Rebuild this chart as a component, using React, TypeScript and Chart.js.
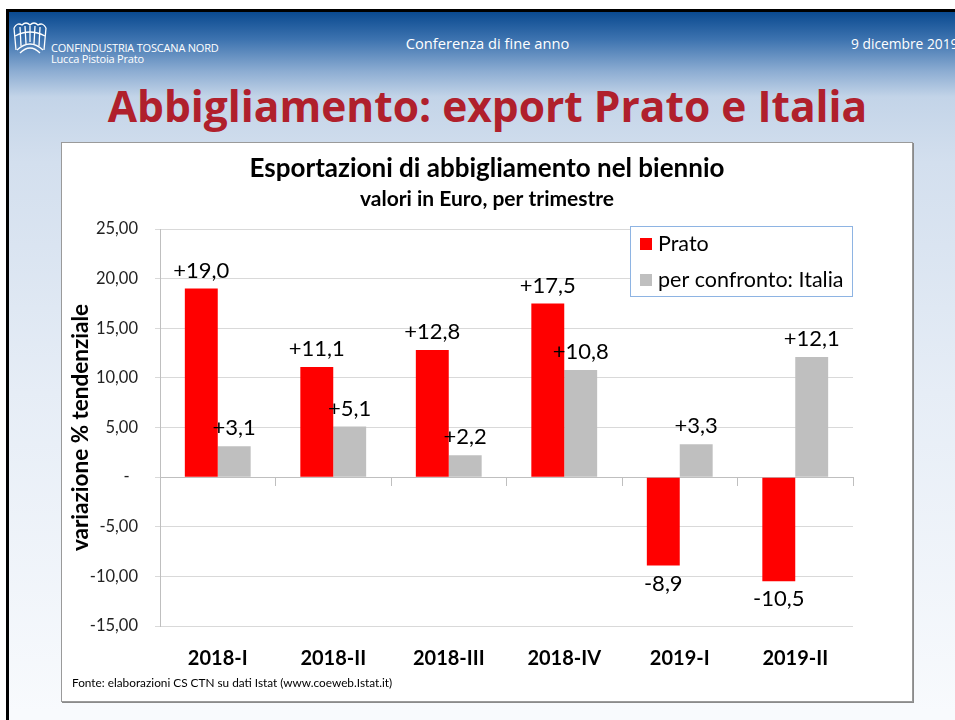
import React, { useEffect, useRef } from "react";
import { Chart, registerables } from "chart.js";

Chart.register(...registerables);

const categories = ["2018-I", "2018-II", "2018-III", "2018-IV", "2019-I", "2019-II"];
const pratoValues = [19.0, 11.1, 12.8, 17.5, -8.9, -10.5];
const italiaValues = [3.1, 5.1, 2.2, 10.8, 3.3, 12.1];
const seriesNames = ["Prato", "per confronto: Italia"];
const seriesColors = ["#ff0000", "#bfbfbf"];
const yMin = -15;
const yMax = 25;
const yStep = 5;

const chartTitle = "Esportazioni di abbigliamento nel biennio";
const chartSubtitle = "valori in Euro, per trimestre";
const yTitle = "variazione % tendenziale";
const sourceNote = "Fonte: elaborazioni CS CTN su dati Istat (www.coeweb.Istat.it)";

const FONT = "Lato, 'Open Sans', sans-serif";

const fmtTick = (v: number) => (v === 0 ? "-  " : v.toFixed(2).replace(".", ","));
const fmtLabel = (v: number) => (v > 0 ? "+" : "") + v.toFixed(1).replace(".", ",");

const dataLabelPlugin = {
  id: "dataLabels",
  afterDatasetsDraw(chart: any) {
    const ctx = chart.ctx;
    ctx.save();
    ctx.font = `22px ${FONT}`;
    ctx.fillStyle = "#000";
    ctx.textAlign = "center";
    ctx.textBaseline = "middle";
    chart.data.datasets.forEach((ds: any, i: number) => {
      const meta = chart.getDatasetMeta(i);
      meta.data.forEach((el: any, j: number) => {
        const v = ds.data[j];
        const y = v >= 0 ? el.y - 18 : el.y + 18;
        ctx.fillText(fmtLabel(v), el.x, y);
      });
    });
    ctx.restore();
  },
};

const boxLegendPlugin = {
  id: "boxLegend",
  afterDraw(chart: any) {
    const ctx = chart.ctx;
    const area = chart.chartArea;
    const w = 222;
    const h = 70;
    const x = area.right - w - 1;
    const y = area.top - 3;
    ctx.save();
    ctx.fillStyle = "#ffffff";
    ctx.fillRect(x, y, w, h);
    ctx.strokeStyle = "#8eb4e3";
    ctx.lineWidth = 1;
    ctx.strokeRect(x + 0.5, y + 0.5, w, h);
    ctx.font = `21.5px ${FONT}`;
    ctx.textBaseline = "middle";
    ctx.textAlign = "left";
    chart.data.datasets.forEach((ds: any, i: number) => {
      const cy = y + 18 + i * 36;
      ctx.fillStyle = ds.backgroundColor;
      ctx.fillRect(x + 10, cy - 6, 12, 12);
      ctx.fillStyle = "#000";
      ctx.fillText(ds.label, x + 28, cy);
    });
    ctx.restore();
  },
};

function ChartBox() {
  const ref = useRef<HTMLCanvasElement | null>(null);
  useEffect(() => {
    if (!ref.current) return;
    const chart = new Chart(ref.current, {
      type: "bar",
      data: {
        labels: categories,
        datasets: [
          { label: seriesNames[0], data: pratoValues, backgroundColor: seriesColors[0], categoryPercentage: 0.57, barPercentage: 1.0 },
          { label: seriesNames[1], data: italiaValues, backgroundColor: seriesColors[1], categoryPercentage: 0.57, barPercentage: 1.0 },
        ],
      },
      options: {
        animation: false,
        responsive: true,
        maintainAspectRatio: false,
        layout: { padding: { left: 0, right: 0, top: 0, bottom: 16 } },
        plugins: {
          legend: { display: false },
          tooltip: { enabled: false },
          title: {
            display: true,
            text: chartTitle,
            color: "#000",
            font: { family: FONT, size: 26, weight: "bold" },
            padding: { top: 10, bottom: 2 },
          },
          subtitle: {
            display: true,
            text: chartSubtitle,
            color: "#000",
            font: { family: FONT, size: 21, weight: "bold" },
            padding: { top: 0, bottom: 17.6 },
          },
        },
        scales: {
          x: {
            type: "category",
            offset: true,
            grid: { display: false },
            border: { display: false },
            ticks: { color: "#000", font: { family: FONT, size: 20, weight: "bold" }, padding: 13 },
          },
          x2: {
            type: "category",
            labels: categories,
            position: { y: 0 },
            offset: true,
            grid: { display: true, offset: true, drawOnChartArea: false, drawTicks: true, tickLength: 8, color: "#bfbfbf" },
            border: { display: true, color: "#bfbfbf", width: 1 },
            ticks: { display: false },
          },
          y: {
            type: "linear",
            min: yMin,
            max: yMax,
            afterFit: (scale: any) => { scale.width = 98; },
            ticks: {
              stepSize: yStep,
              color: "#222",
              font: { family: FONT, size: 16.5 },
              padding: 17,
              callback: (v: any) => fmtTick(Number(v)),
            },
            grid: { color: "#d9d9d9", tickLength: 5 },
            border: { display: true, color: "#bfbfbf" },
            title: {
              display: true,
              text: yTitle,
              color: "#000",
              font: { family: FONT, size: 22.5, weight: "bold" },
              padding: { top: 5, bottom: 0 },
            },
          },
          yR: {
            type: "linear",
            position: "right",
            display: true,
            afterFit: (scale: any) => { scale.width = 59; },
            grid: { display: false },
            border: { display: false },
            ticks: { display: false },
          },
        },
      } as any,
      plugins: [dataLabelPlugin, boxLegendPlugin],
    });
    return () => chart.destroy();
  }, []);
  return <canvas ref={ref} />;
}

function Logo() {
  return (
    <svg width="38" height="36" viewBox="0 0 38 36" style={{ position: "absolute", left: 11, top: 20 }}>
      <g fill="none" stroke="#ffffff" strokeWidth="1.3">
        <path d="M3 8 Q6 2 11 5 Q15 1 19 5 Q23 1 27 5 Q32 2 35 8" />
        <path d="M3 8 L5 30" />
        <path d="M35 8 L33 30" />
        <path d="M9 7 L10 26" />
        <path d="M14 6 L15 24" />
        <path d="M19 6 L19 22" />
        <path d="M24 6 L23 24" />
        <path d="M29 7 L28 26" />
        <path d="M6 30 Q19 18 32 30" />
        <path d="M9 33 Q19 23 29 33" />
        <path d="M4 16 Q19 8 34 16" />
      </g>
    </svg>
  );
}

export default function App() {
  return (
    <div
      style={{
        position: "absolute",
        left: 0,
        top: 0,
        width: 955,
        height: 720,
        overflow: "hidden",
        background: "#ffffff",
      }}
    >
      <div
        style={{
          position: "absolute",
          left: 6,
          top: 9,
          width: 960,
          height: 720,
          borderTop: "3px solid #000",
          borderLeft: "3px solid #000",
          background:
            "linear-gradient(to bottom, #0a4a90 0px, #3e74b0 28px, #8eaed3 60px, #c3d4e8 85px, #d3dfee 150px, #e6edf6 380px, #f8fafd 700px)",
        }}
      />
      <Logo />
      <div style={{ position: "absolute", left: 51, top: 42, color: "#fff", fontFamily: "'Open Sans', sans-serif", fontSize: 11, lineHeight: "11px", letterSpacing: -0.2, whiteSpace: "nowrap" }}>
        CONFINDUSTRIA TOSCANA NORD
        <br />
        Lucca Pistoia Prato
      </div>
      <div style={{ position: "absolute", left: 0, width: 975, top: 33, textAlign: "center", color: "#fff", fontFamily: "'Open Sans', sans-serif", fontSize: 14.7 }}>
        Conferenza di fine anno
      </div>
      <div style={{ position: "absolute", left: 851, top: 34, color: "#fff", fontFamily: "'Open Sans', sans-serif", fontSize: 13.8, whiteSpace: "nowrap" }}>
        9 dicembre 2019
      </div>
      <div style={{ position: "absolute", left: 0, width: 975, top: 77, textAlign: "center", color: "#b0202c", fontFamily: "'Open Sans', sans-serif", fontWeight: 700, fontSize: 42.5, whiteSpace: "nowrap" }}>
        Abbigliamento: export Prato e Italia
      </div>
      <div
        style={{
          position: "absolute",
          left: 61,
          top: 142,
          width: 850,
          height: 558,
          background: "#fff",
          border: "1px solid #9a9a9a",
          boxShadow: "1px 1px 0 #8a8a8a",
        }}
      />
      <div style={{ position: "absolute", left: 62, top: 143, width: 850, height: 557 }}>
        <ChartBox />
      </div>
      <div style={{ position: "absolute", left: 72, top: 675, color: "#000", fontFamily: FONT, fontSize: 11.8, whiteSpace: "nowrap" }}>
        {sourceNote}
      </div>
    </div>
  );
}
